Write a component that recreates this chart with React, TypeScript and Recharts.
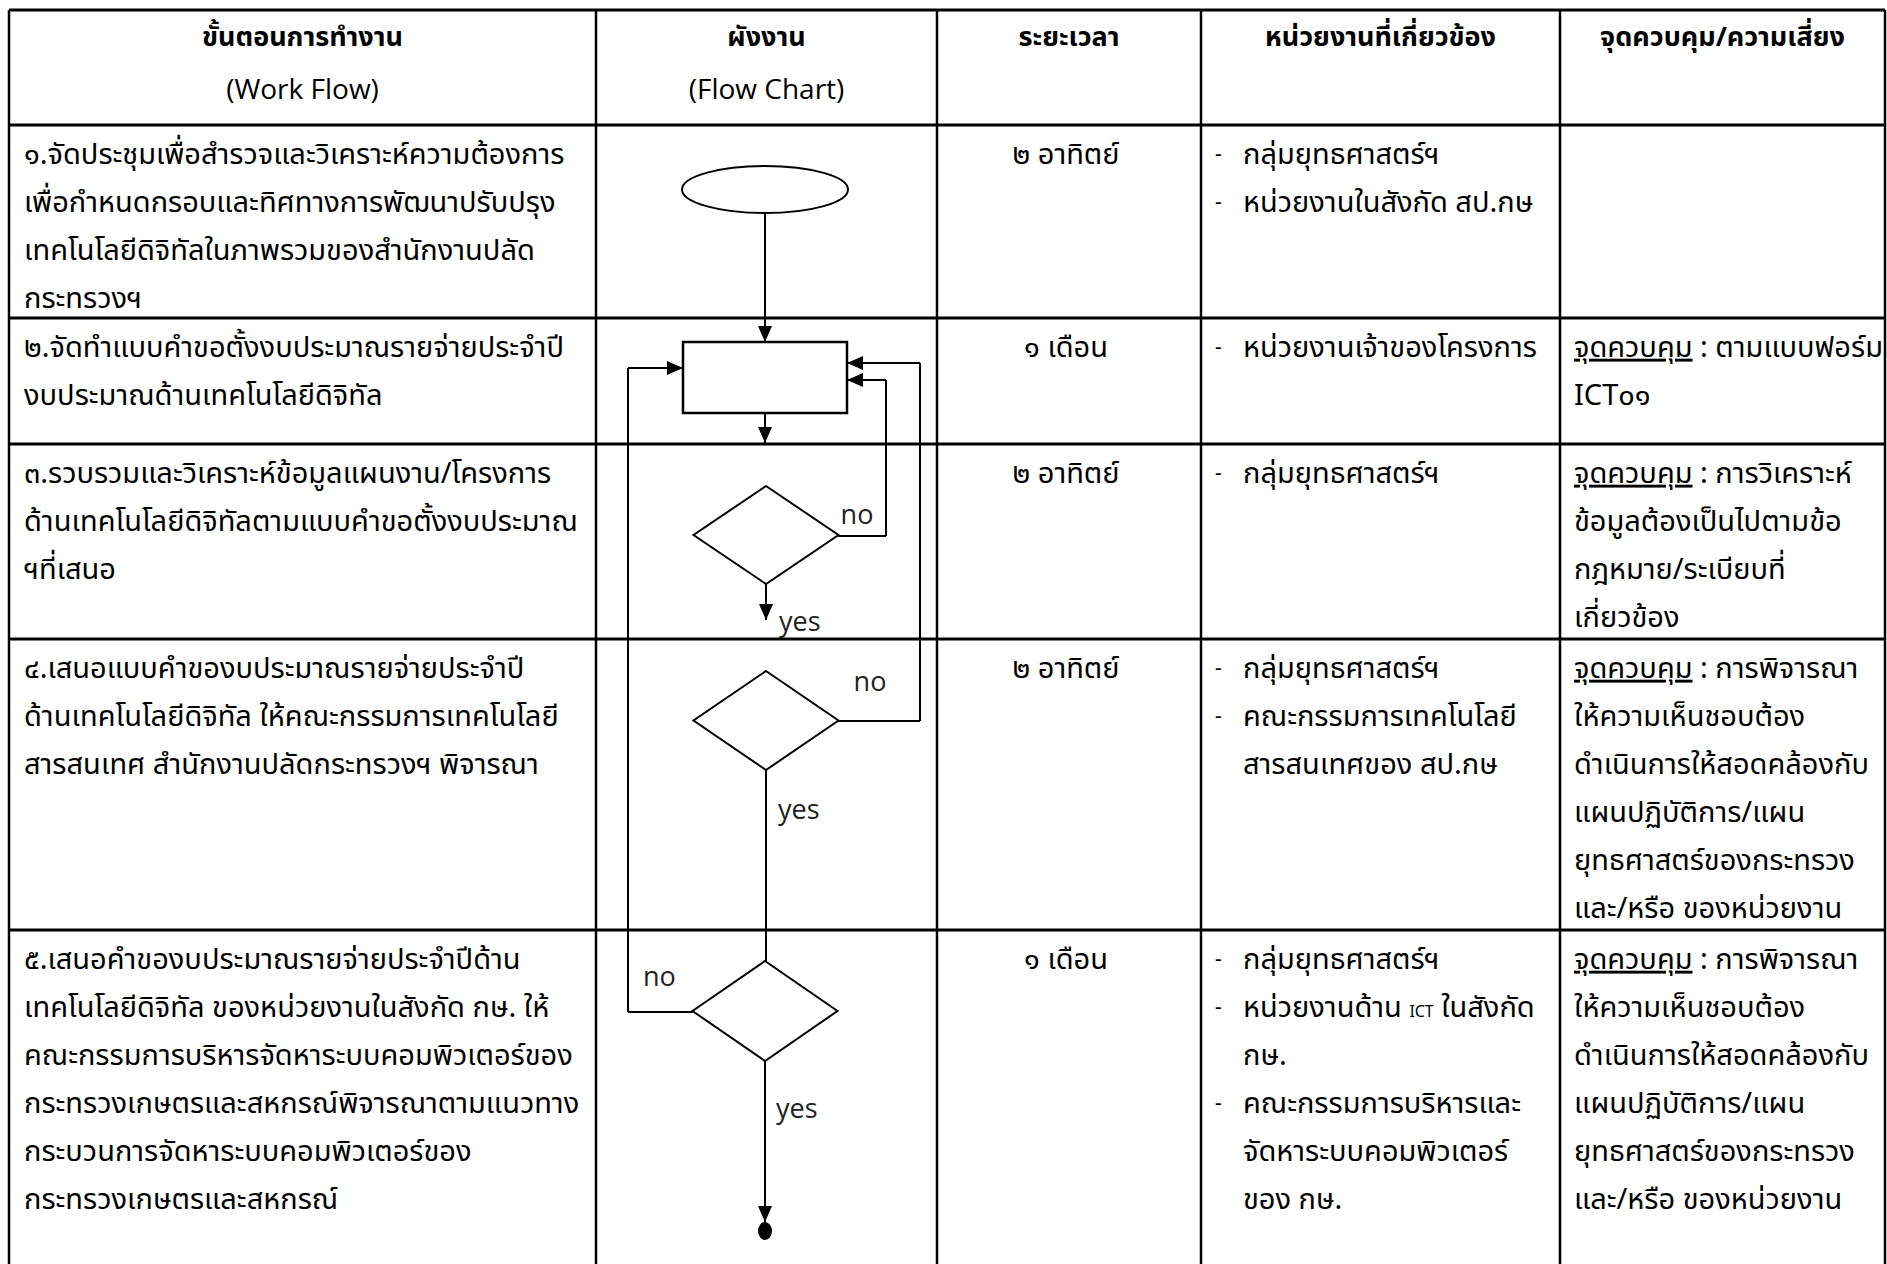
import React from 'react';
import { ComposedChart, XAxis, YAxis, Scatter, ReferenceLine } from 'recharts';

const WIDTH = 1887;
const HEIGHT = 1264;
const FONT = '"Noto Sans Thai", "Noto Sans Thai UI", "Leelawadee UI", Tahoma, Loma, Garuda, "Noto Sans", "Open Sans", sans-serif';
const LATIN = '"Open Sans", "Noto Sans", sans-serif';

// ---- table layout values (page pixels) ----
const columnEdges = [9, 596, 937, 1201, 1560, 1885];
const rowEdges = [10, 125, 318, 444, 639, 930];
const tableBottom = 1264;

// ---- header ----
const headerTitles = ['ขั้นตอนการทำงาน', 'ผังงาน', 'ระยะเวลา', 'หน่วยงานที่เกี่ยวข้อง', 'จุดควบคุม/ความเสี่ยง'];
const headerSubtitles = ['(Work Flow)', '(Flow Chart)', '', '', ''];

// ---- column 1 : work flow ----
const workFlowSteps = [
  ['๑.จัดประชุมเพื่อสำรวจและวิเคราะห์ความต้องการ', 'เพื่อกำหนดกรอบและทิศทางการพัฒนาปรับปรุง', 'เทคโนโลยีดิจิทัลในภาพรวมของสำนักงานปลัด', 'กระทรวงฯ'],
  ['๒.จัดทำแบบคำขอตั้งงบประมาณรายจ่ายประจำปี', 'งบประมาณด้านเทคโนโลยีดิจิทัล'],
  ['๓.รวบรวมและวิเคราะห์ข้อมูลแผนงาน/โครงการ', 'ด้านเทคโนโลยีดิจิทัลตามแบบคำขอตั้งงบประมาณ', 'ฯที่เสนอ'],
  ['๔.เสนอแบบคำของบประมาณรายจ่ายประจำปี', 'ด้านเทคโนโลยีดิจิทัล ให้คณะกรรมการเทคโนโลยี', 'สารสนเทศ สำนักงานปลัดกระทรวงฯ พิจารณา'],
  ['๕.เสนอคำของบประมาณรายจ่ายประจำปีด้าน', 'เทคโนโลยีดิจิทัล ของหน่วยงานในสังกัด กษ. ให้', 'คณะกรรมการบริหารจัดหาระบบคอมพิวเตอร์ของ', 'กระทรวงเกษตรและสหกรณ์พิจารณาตามแนวทาง', 'กระบวนการจัดหาระบบคอมพิวเตอร์ของ', 'กระทรวงเกษตรและสหกรณ์'],
];

// ---- column 3 : duration ----
const durations = ['๒ อาทิตย์', '๑ เดือน', '๒ อาทิตย์', '๒ อาทิตย์', '๑ เดือน'];

// ---- column 4 : related units ("- " marks a bullet) ----
const relatedUnits = [
  ['- กลุ่มยุทธศาสตร์ฯ', '- หน่วยงานในสังกัด สป.กษ'],
  ['- หน่วยงานเจ้าของโครงการ'],
  ['- กลุ่มยุทธศาสตร์ฯ'],
  ['- กลุ่มยุทธศาสตร์ฯ', '- คณะกรรมการเทคโนโลยี', 'สารสนเทศของ สป.กษ'],
  ['- กลุ่มยุทธศาสตร์ฯ', '- หน่วยงานด้าน ICT ในสังกัด', 'กษ.', '- คณะกรรมการบริหารและ', 'จัดหาระบบคอมพิวเตอร์', 'ของ กษ.'],
];

// ---- column 5 : control points ----
const controlLabel = 'จุดควบคุม';
const controlPoints = [
  [],
  ['จุดควบคุม : ตามแบบฟอร์ม', 'ICT๐๑'],
  ['จุดควบคุม : การวิเคราะห์', 'ข้อมูลต้องเป็นไปตามข้อ', 'กฎหมาย/ระเบียบที่', 'เกี่ยวข้อง'],
  ['จุดควบคุม : การพิจารณา', 'ให้ความเห็นชอบต้อง', 'ดำเนินการให้สอดคล้องกับ', 'แผนปฏิบัติการ/แผน', 'ยุทธศาสตร์ของกระทรวง', 'และ/หรือ ของหน่วยงาน'],
  ['จุดควบคุม : การพิจารณา', 'ให้ความเห็นชอบต้อง', 'ดำเนินการให้สอดคล้องกับ', 'แผนปฏิบัติการ/แผน', 'ยุทธศาสตร์ของกระทรวง', 'และ/หรือ ของหน่วยงาน'],
];

// ---- flow chart ----
const flowNodes = [
  { x: 765, y: 189.5, kind: 'start', w: 166, h: 47 },
  { x: 765, y: 377.5, kind: 'process', w: 164, h: 71 },
  { x: 766, y: 535, kind: 'decision', w: 145, h: 98 },
  { x: 766, y: 720.5, kind: 'decision', w: 145, h: 99 },
  { x: 765, y: 1011, kind: 'decision', w: 145, h: 100 },
  { x: 765, y: 1231, kind: 'end', w: 14, h: 18 },
];

const connectors = [
  [[765, 213], [765, 342]],
  [[765, 413], [765, 443]],
  [[766, 584], [766, 620]],
  [[766, 770], [766, 961]],
  [[765, 1061], [765, 1222]],
  [[838, 536], [886, 536], [886, 380], [847, 380]],
  [[838, 721], [920, 721], [920, 363], [847, 363]],
  [[693, 1012], [628, 1012], [628, 368], [683, 368]],
];

const arrowHeads = [
  { x: 765, y: 342, dir: 'down' },
  { x: 765, y: 443, dir: 'down' },
  { x: 766, y: 620, dir: 'down' },
  { x: 765, y: 1222, dir: 'down' },
  { x: 847, y: 380, dir: 'left' },
  { x: 847, y: 363, dir: 'left' },
  { x: 683, y: 368, dir: 'right' },
];

const flowLabels = [
  { x: 857, y: 515, text: 'no', anchor: 'middle' },
  { x: 870, y: 682, text: 'no', anchor: 'middle' },
  { x: 643, y: 977, text: 'no', anchor: 'start' },
  { x: 779, y: 622, text: 'yes', anchor: 'start' },
  { x: 778, y: 810, text: 'yes', anchor: 'start' },
  { x: 776, y: 1109, text: 'yes', anchor: 'start' },
];

// ---- text layout constants ----
const BODY_SIZE = 29;
const HEAD_SIZE = 27;
const SUB_SIZE = 28;
const LINE_GAP = 48;
const FIRST_LINE = 30;
const headerLine1 = 38;
const headerLine2 = 91;
const col1X = 24;
const col4Bullet = 1215;
const col4X = 1243;
const col5X = 1574;

type Part = { t: string; ul?: boolean; small?: boolean };
type TextItem = { x: number; y: number; parts: Part[]; anchor: string; bold?: boolean; size: number; latin?: boolean };

const textItems: TextItem[] = [];
const center = (i: number) => (columnEdges[i] + columnEdges[i + 1]) / 2;

headerTitles.forEach((t, i) => {
  textItems.push({ x: center(i), y: headerLine1, parts: [{ t }], anchor: 'middle', bold: true, size: HEAD_SIZE });
  if (headerSubtitles[i]) {
    textItems.push({ x: center(i), y: headerLine2, parts: [{ t: headerSubtitles[i] }], anchor: 'middle', size: SUB_SIZE, latin: true });
  }
});

workFlowSteps.forEach((lines, r) => {
  lines.forEach((t, k) => {
    textItems.push({ x: col1X, y: rowEdges[r + 1] + FIRST_LINE + k * LINE_GAP, parts: [{ t }], anchor: 'start', size: BODY_SIZE });
  });
});

durations.forEach((t, r) => {
  textItems.push({ x: center(2) - 3, y: rowEdges[r + 1] + FIRST_LINE, parts: [{ t }], anchor: 'middle', size: BODY_SIZE });
});

relatedUnits.forEach((lines, r) => {
  lines.forEach((raw, k) => {
    const y = rowEdges[r + 1] + FIRST_LINE + k * LINE_GAP;
    let t = raw;
    if (raw.startsWith('- ')) {
      textItems.push({ x: col4Bullet, y, parts: [{ t: '-' }], anchor: 'start', size: BODY_SIZE - 8 });
      t = raw.slice(2);
    }
    const parts: Part[] = [];
    const idx = t.indexOf('ICT');
    if (idx >= 0) {
      parts.push({ t: t.slice(0, idx) });
      parts.push({ t: 'ICT', small: true });
      parts.push({ t: t.slice(idx + 3) });
    } else {
      parts.push({ t });
    }
    textItems.push({ x: col4X, y, parts, anchor: 'start', size: BODY_SIZE });
  });
});

controlPoints.forEach((lines, r) => {
  lines.forEach((t, k) => {
    const y = rowEdges[r + 1] + FIRST_LINE + k * LINE_GAP;
    const parts: Part[] = t.startsWith(controlLabel)
      ? [{ t: controlLabel, ul: true }, { t: t.slice(controlLabel.length) }]
      : [{ t }];
    textItems.push({ x: col5X, y, parts, anchor: 'start', size: BODY_SIZE });
  });
});

// ---- shapes ----
const TextMark = (props: any) => {
  const { cx, cy, payload } = props;
  const p: TextItem = payload;
  return (
    <text
      x={cx}
      y={cy + p.size * 0.3}
      textAnchor={p.anchor}
      fontSize={p.size}
      fontWeight={p.bold ? 700 : 400}
      fontFamily={p.latin ? LATIN : FONT}
      fill="#000"
    >
      {p.parts.map((part, i) => (
        <tspan key={i} textDecoration={part.ul ? 'underline' : undefined} fontSize={part.small ? p.size * 0.55 : undefined}>
          {part.t}
        </tspan>
      ))}
    </text>
  );
};

const NodeMark = (props: any) => {
  const { cx, cy, payload } = props;
  const { kind, w, h } = payload;
  if (kind === 'start') {
    return <ellipse cx={cx} cy={cy} rx={w / 2} ry={h / 2} fill="#fff" stroke="#000" strokeWidth={2} />;
  }
  if (kind === 'process') {
    return <rect x={cx - w / 2} y={cy - h / 2} width={w} height={h} fill="#fff" stroke="#000" strokeWidth={2.5} />;
  }
  if (kind === 'decision') {
    const pts = `${cx},${cy - h / 2} ${cx + w / 2},${cy} ${cx},${cy + h / 2} ${cx - w / 2},${cy}`;
    return <polygon points={pts} fill="#fff" stroke="#000" strokeWidth={2} />;
  }
  return <ellipse cx={cx} cy={cy} rx={w / 2} ry={h / 2} fill="#000" />;
};

const ArrowMark = (props: any) => {
  const { cx, cy, payload } = props;
  const L = 16;
  const hw = 7;
  let pts = '';
  if (payload.dir === 'down') pts = `${cx},${cy} ${cx - hw},${cy - L} ${cx + hw},${cy - L}`;
  else if (payload.dir === 'left') pts = `${cx},${cy} ${cx + L},${cy - hw} ${cx + L},${cy + hw}`;
  else pts = `${cx},${cy} ${cx - L},${cy - hw} ${cx - L},${cy + hw}`;
  return <polygon points={pts} fill="#000" />;
};

const LabelMark = (props: any) => {
  const { cx, cy, payload } = props;
  return (
    <text x={cx} y={cy + 9} textAnchor={payload.anchor} fontSize={27} fontFamily={LATIN} fill="#222">
      {payload.text}
    </text>
  );
};

export default function App() {
  const segments: { a: number[]; b: number[] }[] = [];
  connectors.forEach((pts) => {
    for (let i = 0; i < pts.length - 1; i++) segments.push({ a: pts[i], b: pts[i + 1] });
  });
  return (
    <div style={{ position: 'absolute', left: 0, top: 0, background: '#fff' }}>
      <ComposedChart width={WIDTH} height={HEIGHT} margin={{ top: 0, right: 0, bottom: 0, left: 0 }}>
        <XAxis type="number" dataKey="x" domain={[0, WIDTH]} hide allowDataOverflow />
        <YAxis type="number" dataKey="y" domain={[0, HEIGHT]} reversed hide allowDataOverflow />
        {rowEdges.map((y, i) => (
          <ReferenceLine
            key={`r${i}`}
            segment={[{ x: columnEdges[0], y }, { x: columnEdges[columnEdges.length - 1], y }]}
            stroke="#000"
            strokeWidth={3}
            ifOverflow="visible"
          />
        ))}
        {columnEdges.map((x, i) => (
          <ReferenceLine
            key={`c${i}`}
            segment={[{ x, y: rowEdges[0] }, { x, y: tableBottom }]}
            stroke="#000"
            strokeWidth={2.5}
            ifOverflow="visible"
          />
        ))}
        {segments.map((s, i) => (
          <ReferenceLine
            key={`s${i}`}
            segment={[{ x: s.a[0], y: s.a[1] }, { x: s.b[0], y: s.b[1] }]}
            stroke="#000"
            strokeWidth={2}
            ifOverflow="visible"
          />
        ))}
        <Scatter data={flowNodes} shape={NodeMark} isAnimationActive={false} />
        <Scatter data={arrowHeads} shape={ArrowMark} isAnimationActive={false} />
        <Scatter data={flowLabels} shape={LabelMark} isAnimationActive={false} />
        <Scatter data={textItems} shape={TextMark} isAnimationActive={false} />
      </ComposedChart>
    </div>
  );
}
